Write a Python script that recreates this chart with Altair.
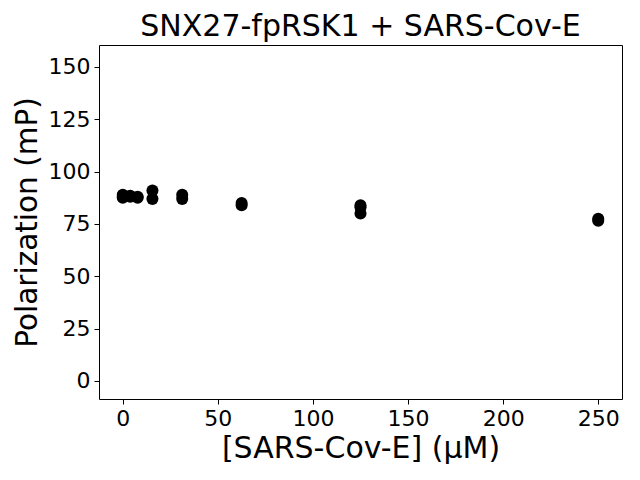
import altair as alt
import pandas as pd

conc = [0, 0, 0, 3.9, 3.9, 7.8, 7.8, 15.6, 15.6, 31.25, 31.25, 62.5, 62.5, 125, 125, 125, 250, 250]
pol = [87.5, 89, 88, 88.5, 88, 88, 87.5, 87, 91, 87, 89, 84, 85, 80, 83, 84, 76.5, 77.5]

df = pd.DataFrame({"conc": conc, "pol": pol})

font = "DejaVu Sans"

chart = alt.Chart(df).mark_circle(size=145, color="black", opacity=1).encode(
    x=alt.X("conc:Q",
            scale=alt.Scale(domain=[-12.5, 262.5], nice=False, zero=False),
            axis=alt.Axis(title="[SARS-Cov-E] (µM)", values=[0, 50, 100, 150, 200, 250],
                          grid=False, tickColor="black", tickSize=5, domain=False,
                          labelFontSize=22, titleFontSize=30, labelFont=font, titleFont=font,
                          labelColor="black", titleColor="black", titleFontWeight="normal",
                          labelPadding=4, titlePadding=4)),
    y=alt.Y("pol:Q",
            scale=alt.Scale(domain=[-8.6, 160.5], nice=False, zero=False),
            axis=alt.Axis(title="Polarization (mP)", values=[0, 25, 50, 75, 100, 125, 150],
                          grid=False, tickColor="black", tickSize=5, domain=False,
                          labelFontSize=22, titleFontSize=29.5, labelFont=font, titleFont=font,
                          labelColor="black", titleColor="black", titleFontWeight="normal",
                          labelPadding=4, titlePadding=6)),
).properties(
    width=523, height=354,
    title=alt.TitleParams("SNX27-fpRSK1 + SARS-Cov-E", fontSize=30, font=font,
                          fontWeight="normal", color="black", offset=3),
    autosize=alt.AutoSizeParams(type="none"),
    padding={"left": 91, "top": 37, "right": 10, "bottom": 73},
).configure_view(stroke="black", strokeWidth=1)

chart.save("out.html", embed_options={"renderer": "svg", "actions": False})
